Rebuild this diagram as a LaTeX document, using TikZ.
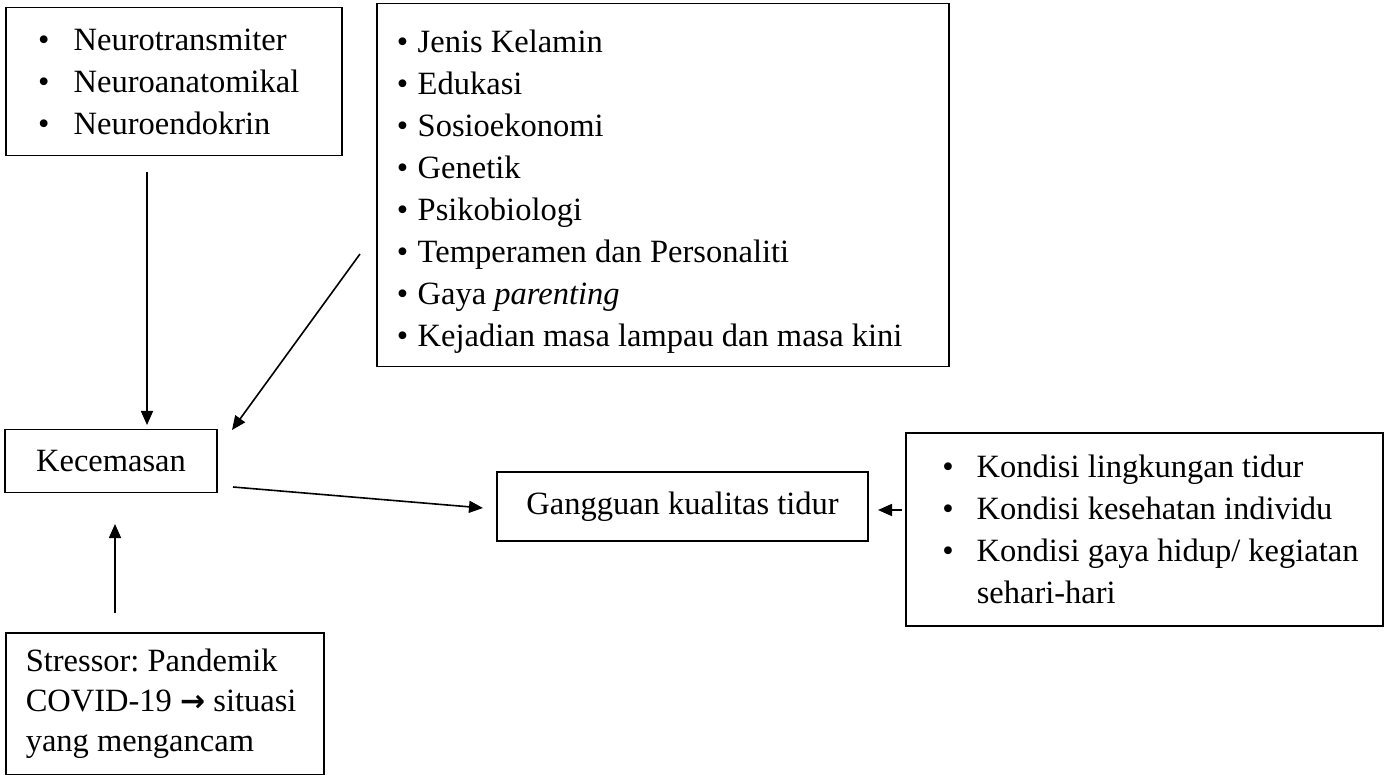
\documentclass[tikz,border=0pt]{standalone}
\usepackage{fontspec}
\setmainfont{Liberation Serif}
\newfontfamily\symfont{DejaVu Sans}
\usetikzlibrary{arrows.meta}
\frenchspacing
\newcommand\bul[2]{\hspace*{#1}\makebox[#2][l]{\textbullet}}
\begin{document}
\begin{tikzpicture}[x=1pt,y=-1pt,
  box/.style={draw, line width=1.5pt, inner xsep=5pt, inner ysep=0pt, align=flush left,
    font=\fontsize{32.5}{42}\selectfont\frenchspacing},
  cbox/.style={draw, line width=1.5pt, inner sep=0pt, align=center,
    font=\fontsize{32.5}{42}\selectfont},
  arr/.style={line width=1.6pt, -{Triangle[length=14pt,width=12pt]}}]
\useasboundingbox (0,0) rectangle (1387,775);

\node[box, anchor=north west, minimum width=336pt, minimum height=148pt, text width=326pt] (b1) at (5,7)
 {\bul{27.5pt}{35.5pt}Neurotransmiter\\
  \bul{27.5pt}{35.5pt}Neuroanatomikal\\
  \bul{27.5pt}{35.5pt}Neuroendokrin};

\node[box, anchor=north west, minimum width=572pt, minimum height=363pt, text width=562pt] (b2) at (376,3)
 {\rule{0pt}{35pt}\bul{15pt}{21pt}Jenis Kelamin\\
  \bul{15pt}{21pt}Edukasi\\
  \bul{15pt}{21pt}Sosioekonomi\\
  \bul{15pt}{21pt}Genetik\\
  \bul{15pt}{21pt}Psikobiologi\\
  \bul{15pt}{21pt}Temperamen dan Personaliti\\
  \bul{15pt}{21pt}Gaya \textit{parenting}\\
  \bul{15pt}{21pt}Kejadian masa lampau dan masa kini};

\node[cbox, minimum width=212pt, minimum height=63pt] (kec) at (111,461) {Kecemasan};

\node[cbox, minimum width=371pt, minimum height=69pt] (gang) at (682.5,506.5) {Gangguan kualitas tidur};

\node[box, anchor=north west, minimum width=477pt, minimum height=193pt, text width=467pt] (b3) at (905,432)
 {\bul{31.5pt}{34.5pt}Kondisi lingkungan tidur\\
  \bul{31.5pt}{34.5pt}Kondisi kesehatan individu\\
  \bul{31.5pt}{34.5pt}Kondisi gaya hidup/ kegiatan\\
  \hspace*{66pt}sehari-hari};

\node[box, anchor=north west, minimum width=318pt, minimum height=142pt, text width=308pt,
  font=\fontsize{32.5}{40}\selectfont\frenchspacing] (str) at (5,632)
 {\hspace*{15pt}Stressor: Pandemik\\
  \hspace*{15pt}COVID-19 {\symfont\bfseries\fontsize{30}{40}\selectfont →} situasi\\
  \hspace*{15pt}yang mengancam};

\coordinate (a1s) at (147,172);
\coordinate (a1e) at (147,425);
\coordinate (a2s) at (360,254);
\coordinate (a2e) at (232,430);
\coordinate (a3s) at (233,487);
\coordinate (a3e) at (483,508);
\coordinate (a4s) at (902,510);
\coordinate (a4e) at (878,510);
\coordinate (a5s) at (115,613);
\coordinate (a5e) at (115,524);

\draw[arr] (a1s) -- (a1e);
\draw[arr] (a2s) -- (a2e);
\draw[arr] (a3s) -- (a3e);
\draw[arr] (a4s) -- (a4e);
\draw[arr] (a5s) -- (a5e);
\end{tikzpicture}
\end{document}
